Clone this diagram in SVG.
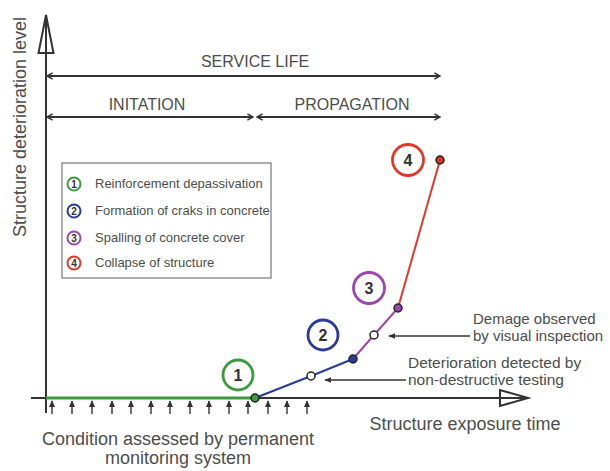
<svg xmlns="http://www.w3.org/2000/svg" width="610" height="471" viewBox="0 0 610 471">
  <style>
    .txt { font-family: "Liberation Sans", Arial, sans-serif; fill: #4d4d4d; }
    .axis { stroke: #333; stroke-width: 2; fill: none; }
    .span { stroke: #333; stroke-width: 1.8; fill: none; }
    .ptr { stroke: #333; stroke-width: 1.5; fill: none; }
    .num { font-family: "Liberation Sans", Arial, sans-serif; font-weight: bold; fill: #333; text-anchor: middle; }
    .dot { stroke: #222; stroke-width: 1.5; }
  </style>
  <defs>
    <marker id="chev" viewBox="0 0 10 10" refX="9" refY="5" markerWidth="8" markerHeight="8" markerUnits="userSpaceOnUse" orient="auto-start-reverse">
      <path d="M2,1 L9,5 L2,9" fill="none" stroke="#333" stroke-width="1.8"/>
    </marker>
    <marker id="tip" viewBox="0 0 10 10" refX="9" refY="5" markerWidth="7" markerHeight="7" markerUnits="userSpaceOnUse" orient="auto">
      <path d="M0,1 L10,5 L0,9 Z" fill="#333"/>
    </marker>
    <marker id="uptip" viewBox="0 0 10 10" refX="9" refY="5" markerWidth="7" markerHeight="8" markerUnits="userSpaceOnUse" orient="auto">
      <path d="M0,0.5 L10,5 L0,9.5 Z" fill="#333"/>
    </marker>
  </defs>

  <!-- axes -->
  <g id="axes">
    <line class="axis" x1="46" y1="413" x2="46" y2="15"/>
    <path d="M46,15 L38.5,53 L53.5,53 Z" fill="#fff" stroke="#333" stroke-width="2"/>
    <line class="axis" x1="46" y1="53" x2="46" y2="15"/>
    <line class="axis" x1="31" y1="398" x2="500" y2="398"/>
    <path d="M528,398 L500,390 L500,406 Z" fill="#fff" stroke="#333" stroke-width="2"/>
    <line class="axis" x1="500" y1="398" x2="528" y2="398"/>
    <text class="txt" x="20" y="127" font-size="18" text-anchor="middle" transform="rotate(-90 20 127)" dy="6">Structure deterioration level</text>
    <text class="txt" x="465" y="430" font-size="18" text-anchor="middle">Structure exposure time</text>
  </g>

  <!-- life phases -->
  <g id="phases">
    <line class="span" x1="47" y1="76" x2="440" y2="76" marker-start="url(#chev)" marker-end="url(#chev)"/>
    <text class="txt" x="255" y="67" font-size="16" text-anchor="middle">SERVICE LIFE</text>
    <line class="span" x1="47" y1="117" x2="253" y2="117" marker-start="url(#chev)" marker-end="url(#chev)"/>
    <line class="span" x1="257" y1="117" x2="440" y2="117" marker-start="url(#chev)" marker-end="url(#chev)"/>
    <text class="txt" x="147" y="110" font-size="16" text-anchor="middle">INITATION</text>
    <text class="txt" x="352" y="110" font-size="16" text-anchor="middle">PROPAGATION</text>
  </g>

  <!-- legend -->
  <g id="legend">
    <rect x="62" y="163" width="209" height="115" fill="#fff" stroke="#777" stroke-width="1.2"/>
    <circle cx="74" cy="184" r="6.5" fill="#fff" stroke="#3e9a3e" stroke-width="2"/>
    <text class="num" x="74" y="187.7" font-size="10">1</text>
    <text class="txt" x="95" y="188" font-size="13">Reinforcement depassivation</text>
    <circle cx="74" cy="211" r="6.5" fill="#fff" stroke="#2b3a96" stroke-width="2"/>
    <text class="num" x="74" y="214.7" font-size="10">2</text>
    <text class="txt" x="95" y="215" font-size="13">Formation of craks in concrete</text>
    <circle cx="74" cy="238" r="6.5" fill="#fff" stroke="#9c45ad" stroke-width="2"/>
    <text class="num" x="74" y="241.7" font-size="10">3</text>
    <text class="txt" x="95" y="242" font-size="13">Spalling of concrete cover</text>
    <circle cx="74" cy="263" r="6.5" fill="#fff" stroke="#e2372a" stroke-width="2"/>
    <text class="num" x="74" y="266.7" font-size="10">4</text>
    <text class="txt" x="95" y="267" font-size="13">Collapse of structure</text>
  </g>

  <!-- deterioration curve -->
  <g id="curve">
    <line x1="46" y1="398" x2="255" y2="398" stroke="#3e9a3e" stroke-width="3"/>
    <polyline points="255,398 311,376 353,359" fill="none" stroke="#2b3a96" stroke-width="2"/>
    <polyline points="353,359 374,335 398,308" fill="none" stroke="#9c45ad" stroke-width="2"/>
    <line x1="398" y1="308" x2="440" y2="160" stroke="#e2372a" stroke-width="2"/>
    <circle class="dot" cx="255" cy="398" r="4" fill="#3e9a3e"/>
    <circle class="dot" cx="311" cy="376" r="4" fill="#fff"/>
    <circle class="dot" cx="353" cy="359" r="4" fill="#2b3a96"/>
    <circle class="dot" cx="374" cy="335" r="4" fill="#fff"/>
    <circle class="dot" cx="398" cy="308" r="4" fill="#9c45ad"/>
    <circle class="dot" cx="440" cy="160" r="4" fill="#d8342a"/>
  </g>

  <!-- stage markers -->
  <g id="stage-1">
    <circle cx="238" cy="375" r="15" fill="#fff" stroke="#3e9a3e" stroke-width="2.8"/>
    <text class="num" x="238" y="381" font-size="16">1</text>
  </g>
  <g id="stage-2">
    <circle cx="323" cy="335" r="15" fill="#fff" stroke="#2b3a96" stroke-width="2.8"/>
    <text class="num" x="323" y="341" font-size="16">2</text>
  </g>
  <g id="stage-3">
    <circle cx="369" cy="288" r="15.5" fill="#fff" stroke="#9c45ad" stroke-width="2.8"/>
    <text class="num" x="369" y="294" font-size="16">3</text>
  </g>
  <g id="stage-4">
    <circle cx="408" cy="160" r="15.5" fill="#fff" stroke="#e2372a" stroke-width="2.8"/>
    <text class="num" x="408" y="166" font-size="16">4</text>
  </g>

  <!-- inspection pointers -->
  <g id="connectors">
    <line class="ptr" x1="470" y1="336" x2="389" y2="336" marker-end="url(#tip)"/>
    <line class="ptr" x1="406" y1="380" x2="325" y2="380" marker-end="url(#tip)"/>
  </g>
  <g id="visual-inspection">
    <text class="txt" x="473" y="324" font-size="15">Demage observed</text>
    <text class="txt" x="473" y="341" font-size="15">by visual inspection</text>
  </g>
  <g id="ndt">
    <text class="txt" x="408" y="368" font-size="15.5">Deterioration detected by</text>
    <text class="txt" x="408" y="385" font-size="15.5">non-destructive testing</text>
  </g>

  <!-- permanent monitoring -->
  <g id="monitoring">
    <g marker-end="url(#uptip)" stroke="#333" stroke-width="1.4">
      <line x1="52" y1="414" x2="52" y2="401"/>
      <line x1="72" y1="414" x2="72" y2="401"/>
      <line x1="92" y1="414" x2="92" y2="401"/>
      <line x1="112" y1="414" x2="112" y2="401"/>
      <line x1="131" y1="414" x2="131" y2="401"/>
      <line x1="151" y1="414" x2="151" y2="401"/>
      <line x1="170" y1="414" x2="170" y2="401"/>
      <line x1="190" y1="414" x2="190" y2="401"/>
      <line x1="209" y1="414" x2="209" y2="401"/>
      <line x1="229" y1="414" x2="229" y2="401"/>
      <line x1="248" y1="414" x2="248" y2="401"/>
      <line x1="268" y1="414" x2="268" y2="401"/>
      <line x1="287" y1="414" x2="287" y2="401"/>
      <line x1="307" y1="414" x2="307" y2="401"/>
    </g>
    <text class="txt" x="178" y="445" font-size="18" text-anchor="middle">Condition assessed by permanent</text>
    <text class="txt" x="178" y="464" font-size="18" text-anchor="middle">monitoring system</text>
  </g>
</svg>
